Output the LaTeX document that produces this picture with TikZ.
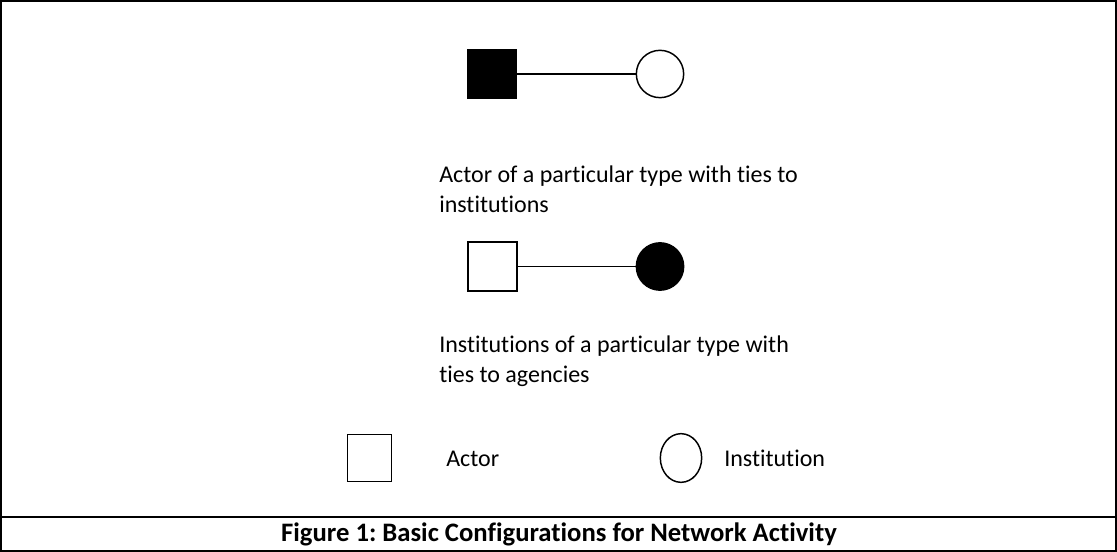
\documentclass[tikz,border=0pt]{standalone}
\usepackage{fontspec}
\setmainfont{Carlito}[Ligatures={NoCommon}]
\usetikzlibrary{shapes.geometric}
\frenchspacing

\tikzset{
	actor/.style={draw, line width=1.1pt, minimum size=36.5pt, inner sep=0pt},
	inst/.style={draw, circle, line width=1.1pt, minimum size=35.5pt, inner sep=0pt},
	tie/.style={line width=1.1pt},
	note/.style={anchor=north west, inner sep=0pt, align=left},
	frame/.style={line width=1.6pt}
}

\begin{document}
\begin{tikzpicture}[x=0.75pt, y=-0.75pt, font=\fontsize{18}{22}\selectfont]
		\useasboundingbox(0, 0)rectangle(1117, 552);
		\draw[frame](1, 1)rectangle(1116, 551);
		\draw[frame](1, 517)--(1116, 517);
		% actor type tied to institutions
		\node[actor, fill=black](actA)at(492, 74){};
		\node[inst](instA)at(660, 74){};
		\draw[tie](actA)--(instA);
		\node[note](noteA)at(439, 166){Actor of a particular type with ties to\\institutions};
		% institution type tied to agencies
		\node[actor](actB)at(492.5, 266.5){};
		\node[inst, fill=black](instB)at(660, 266.5){};
		\draw[tie](actB)--(instB);
		\node[note](noteB)at(439, 336){Institutions of a particular type with\\ties to agencies};
		% legend
		\node[actor, minimum width=33pt, minimum height=35pt](keyAct)at(369.5, 458){};
		\node[anchor=base west, inner sep=0pt](keyActTxt)at(446, 466){Actor};
		\node[draw, ellipse, line width=1.1pt, minimum width=31pt, minimum height=36.5pt, inner sep=0pt](keyInst)at(681, 458){};
		\node[anchor=base west, inner sep=0pt](keyInstTxt)at(724, 466){Institution};
		\node[anchor=base, inner sep=0pt, font=\fontsize{20}{22}\selectfont\bfseries](caption)at(559, 541){Figure 1: Basic Configurations for Network Activity};
	\end{tikzpicture}
\end{document}
